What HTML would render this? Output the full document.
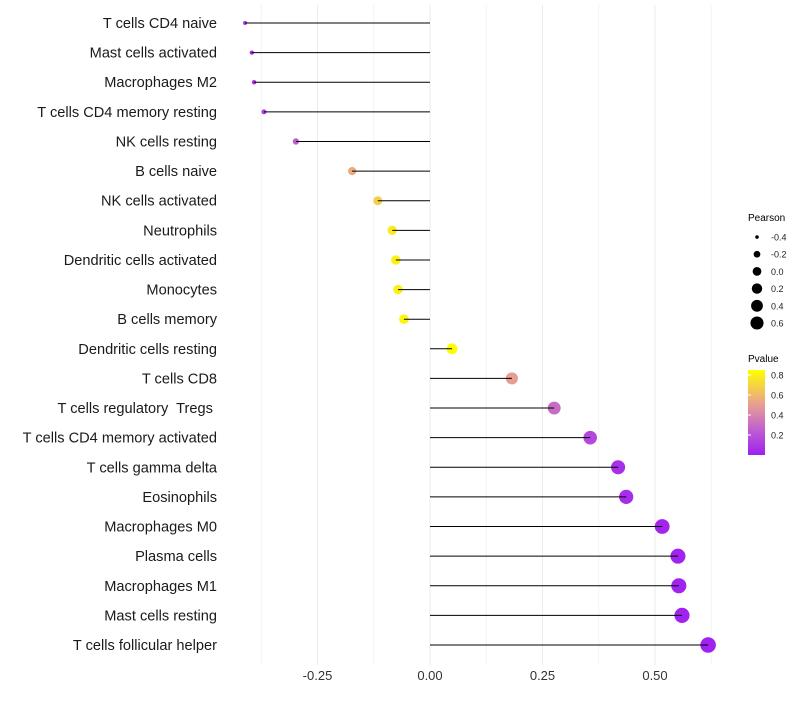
<!DOCTYPE html>
<html><head><meta charset="utf-8"><style>
body{margin:0;background:#fff;font-family:"Liberation Sans",sans-serif}
text{white-space:pre}
</style></head><body>
<svg id="chart" width="800" height="700" xmlns="http://www.w3.org/2000/svg" font-family="Liberation Sans, sans-serif">
<defs>
<linearGradient id="pg" x1="0" y1="1" x2="0" y2="0">
<stop offset="0" stop-color="#A020F0"/>
<stop offset="0.3" stop-color="#C060D0"/>
<stop offset="0.6" stop-color="#E8A090"/>
<stop offset="1" stop-color="#FFFF00"/>
</linearGradient>
</defs>
<g id="grid"></g>
<g id="points"></g>
<g id="marks"></g>
<g id="ylab"></g>
<g id="xlab"></g>
<g id="legend">
<text x="748" y="221" font-size="10">Pearson</text>
<text x="748" y="362" font-size="10">Pvalue</text>
<rect x="748" y="370" width="17" height="85" fill="url(#pg)"/>
</g>
</svg>
<script>
const categories=["T cells CD4 naive","Mast cells activated","Macrophages M2","T cells CD4 memory resting","NK cells resting","B cells naive","NK cells activated","Neutrophils","Dendritic cells activated","Monocytes","B cells memory","Dendritic cells resting","T cells CD8","T cells regulatory  Tregs ","T cells CD4 memory activated","T cells gamma delta","Eosinophils","Macrophages M0","Plasma cells","Macrophages M1","Mast cells resting","T cells follicular helper"];
const pearson=[-0.411,-0.396,-0.391,-0.369,-0.298,-0.173,-0.116,-0.084,-0.076,-0.071,-0.058,0.049,0.182,0.276,0.356,0.418,0.436,0.516,0.551,0.553,0.56,0.618];
const pvalues=[0.06,0.07,0.08,0.12,0.25,0.55,0.68,0.78,0.8,0.8,0.82,0.84,0.5,0.3,0.16,0.06,0.05,0.02,0.01,0.01,0.01,0.003];
const xTicks=[-0.25,0,0.25,0.5];
const xTickLabels=["-0.25","0.00","0.25","0.50"];
const sizeLegend=[-0.4,-0.2,0,0.2,0.4,0.6];
const sizeLegendLabels=["-0.4","-0.2","0.0","0.2","0.4","0.6"];
const pTicks=[0.2,0.4,0.6,0.8];
const NS="http://www.w3.org/2000/svg";
const xs=v=>430+v*450;
const ys=i=>23+i*(645-23)/(categories.length-1);
const rs=v=>Math.sqrt(Math.max(2,4.5+(v+0.4)*55));
const stops=[[0,[160,32,240]],[0.255,[192,96,208]],[0.51,[232,160,144]],[0.85,[255,255,0]]];
function col(p){p=Math.max(0,Math.min(0.85,p));for(let k=1;k<stops.length;k++){if(p<=stops[k][0]){const a=stops[k-1],b=stops[k],t=(p-a[0])/(b[0]-a[0]);return`rgb(${a[1].map((c,j)=>Math.round(c+(b[1][j]-c)*t)).join(',')})`;}}return"rgb(255,255,0)";}
function mk(t,a,parent){const e=document.createElementNS(NS,t);for(const k in a)e.setAttribute(k,a[k]);document.getElementById(parent).appendChild(e);return e;}
for(let v=-0.375;v<=0.63;v+=0.125){const major=Math.abs(v*4-Math.round(v*4))<1e-6;const g=mk('line',{x1:xs(v),x2:xs(v),y1:5,y2:665,stroke:major?'#ebebeb':'#f3f3f3','stroke-width':1},'grid');

}
categories.forEach((c,i)=>{
const y=ys(i);
const p=mk('circle',{cx:xs(pearson[i]),cy:y,r:rs(pearson[i]),fill:col(pvalues[i])},'points');


const l=mk('line',{x1:xs(0),x2:xs(pearson[i]),y1:y,y2:y,stroke:'#000','stroke-width':1},'marks');


const t=mk('text',{x:217,y:y+5,'text-anchor':'end','font-size':14.6,fill:'#1a1a1a'},'ylab');
t.textContent=c;


});
xTicks.forEach((v,i)=>{const t=mk('text',{x:xs(v),y:680,'text-anchor':'middle','font-size':13,fill:'#333'},'xlab');t.textContent=xTickLabels[i];

});
sizeLegend.forEach((v,i)=>{const y=237+i*17.2;
const c=mk('circle',{cx:757,cy:y,r:rs(v)*0.85,fill:'#000'},'legend');


const t=mk('text',{x:771,y:y+3.5,'font-size':9,fill:'#222'},'legend');t.textContent=sizeLegendLabels[i];

});
pTicks.forEach(v=>{const y=455-v*100;
const l=mk('line',{x1:748,x2:751,y1:y,y2:y,stroke:'#fff'},'legend');


const t=mk('text',{x:771,y:y+3.5,'font-size':9,fill:'#222'},'legend');t.textContent=v.toFixed(1);

});
</script>
</body></html>
